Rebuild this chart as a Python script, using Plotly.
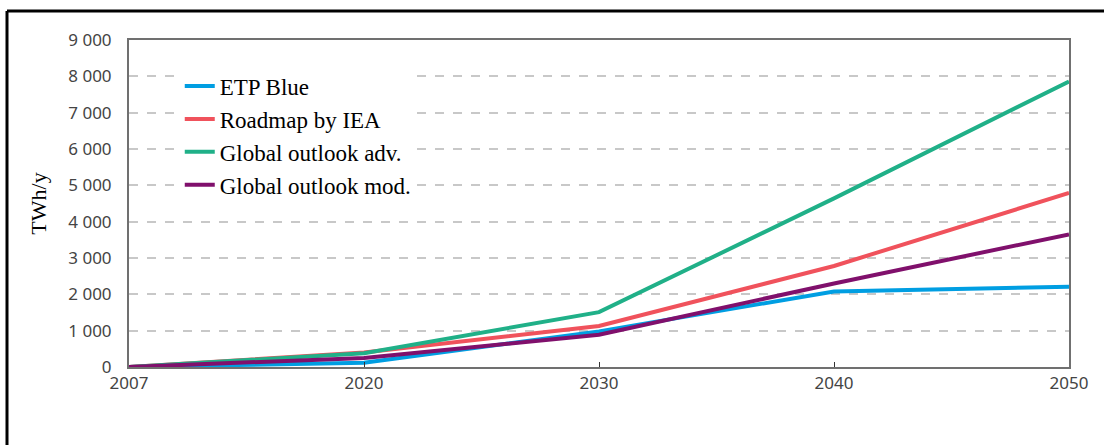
import plotly.graph_objects as go

years = ["2007", "2020", "2030", "2040", "2050"]
etp_blue = [0, 120, 980, 2080, 2210]
roadmap_iea = [0, 400, 1130, 2780, 4790]
global_adv = [0, 380, 1510, 4640, 7860]
global_mod = [0, 250, 890, 2300, 3650]

series = [
    ("ETP Blue", etp_blue, "rgb(0,158,226)"),
    ("Roadmap by IEA", roadmap_iea, "rgb(240,82,92)"),
    ("Global outlook adv.", global_adv, "rgb(32,176,136)"),
    ("Global outlook mod.", global_mod, "rgb(128,16,108)"),
]

y_ticks = list(range(0, 9001, 1000))
y_tick_text = ["0" if v == 0 else f"{v // 1000} 000" for v in y_ticks]

fig = go.Figure()
for i, (name, vals, col) in enumerate(series):
    fig.add_trace(go.Scatter(
        x=years, y=vals, mode="lines", name=name,
        line=dict(color=col, width=4), legendgroup=str(i),
    ))

fig.update_layout(
    width=1104, height=445,
    margin=dict(l=129, r=35, t=40, b=78),
    paper_bgcolor="white", plot_bgcolor="white",
    showlegend=True,
    legend=dict(
        x=0.054, y=0.925, xanchor="left", yanchor="top",
        bgcolor="white", borderwidth=0,
        font=dict(family="Liberation Serif", size=23, color="black"),
        tracegroupgap=0, itemwidth=30,
    ),
    xaxis=dict(
        type="category", range=[0, 4],
        showgrid=False, zeroline=False,
        showline=True, linecolor="#707070", linewidth=2, mirror=True,
        ticks="inside", ticklen=5, tickcolor="#333", tickwidth=1,
        tickfont=dict(family="Noto Sans", size=17, color="#444"),
    ),
    yaxis=dict(
        range=[0, 9000], tickvals=y_ticks, ticktext=y_tick_text,
        showgrid=True, gridcolor="#c8c8c8", griddash="dash", gridwidth=1.5,
        zeroline=False,
        showline=True, linecolor="#707070", linewidth=2, mirror=True,
        ticks="", ticklabelstandoff=12,
        tickfont=dict(family="Noto Sans", size=17, color="#444"),
        title=dict(text="TWh/y", standoff=16,
                   font=dict(family="Liberation Serif", size=22, color="black")),
    ),
    shapes=[
        dict(type="line", xref="paper", yref="paper",
             x0=(7 - 129) / 940, x1=(1104 - 129) / 940,
             y0=(367 - 11) / 327, y1=(367 - 11) / 327,
             line=dict(color="black", width=3)),
        dict(type="line", xref="paper", yref="paper",
             x0=(7 - 129) / 940, x1=(7 - 129) / 940,
             y0=(367 - 11) / 327, y1=(367 - 450) / 327,
             line=dict(color="black", width=3)),
    ],
)

fig.write_html("out.html")
